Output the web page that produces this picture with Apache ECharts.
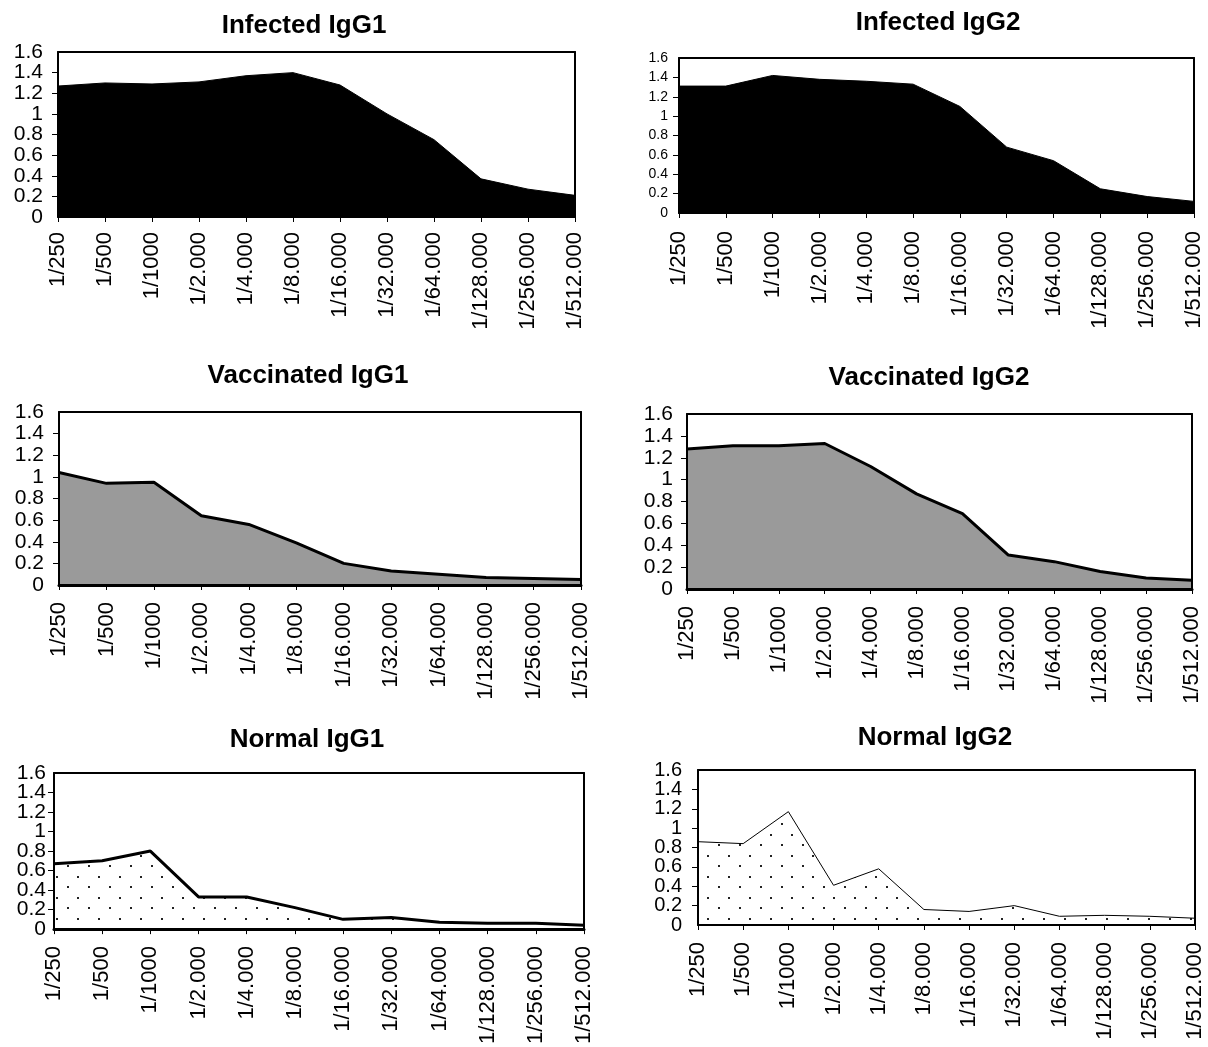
<!DOCTYPE html>
<html><head><meta charset="utf-8">
<script src="https://cdn.jsdelivr.net/npm/echarts@6/dist/echarts.min.js"></script>
<style>html,body{margin:0;padding:0;background:#fff}#c{width:1208px;height:1047px}</style>
</head><body><div id="c"></div>
<script>
// ---- data ----
const dilutions = ['1/250','1/500','1/1000','1/2.000','1/4.000','1/8.000','1/16.000','1/32.000','1/64.000','1/128.000','1/256.000','1/512.000'];
const infectedIgG1   = [1.27,1.30,1.29,1.31,1.37,1.40,1.28,1.00,0.75,0.37,0.27,0.21];
const infectedIgG2   = [1.31,1.31,1.42,1.38,1.36,1.33,1.10,0.68,0.54,0.25,0.17,0.12];
const vaccinatedIgG1 = [1.04,0.94,0.95,0.64,0.56,0.39,0.20,0.13,0.10,0.07,0.06,0.05];
const vaccinatedIgG2 = [1.28,1.31,1.31,1.33,1.12,0.87,0.69,0.31,0.25,0.16,0.10,0.08];
const normalIgG1     = [0.67,0.70,0.80,0.33,0.33,0.22,0.10,0.12,0.07,0.06,0.06,0.04];
const normalIgG2     = [0.86,0.84,1.17,0.41,0.58,0.16,0.14,0.20,0.09,0.10,0.09,0.07];
const panelTitles = ['Infected IgG1','Infected IgG2','Vaccinated IgG1','Vaccinated IgG2','Normal IgG1','Normal IgG2'];
const yMin = 0, yMax = 1.6, yStep = 0.2;

// ---- styling / layout ----
const FONT = '"Liberation Sans", Arial, sans-serif';
const dots = document.createElement('canvas');
dots.width = 21; dots.height = 21;
const g = dots.getContext('2d');
g.fillStyle = '#fff'; g.fillRect(0,0,21,21);
g.fillStyle = '#222'; g.fillRect(4,4,2,2); g.fillRect(14,15,2,2);

const seriesData = [infectedIgG1, infectedIgG2, vaccinatedIgG1, vaccinatedIgG2, normalIgG1, normalIgG2];
const layout = [
  {left:58, top:52, width:517, height:165, tx:299, ty:8,   yFont:21, yMargin:15, xMargin:15, fill:'#000', lw:1, bw:2},
  {left:679,top:58, width:515, height:155, tx:933, ty:5,   yFont:14, yMargin:11, xMargin:18, fill:'#000', lw:1, bw:2},
  {left:59, top:412,width:522, height:173, tx:303, ty:358, yFont:21, yMargin:15, xMargin:17, fill:'#9a9a9a', lw:3, bw:3},
  {left:687,top:414,width:505, height:175, tx:924, ty:360, yFont:21, yMargin:14, xMargin:17, fill:'#9a9a9a', lw:3, bw:3},
  {left:54, top:773,width:530, height:162, tx:302, ty:722, yFont:21, yMargin:8,  xMargin:17, fill:{image:dots, repeat:'repeat'}, lw:3, bw:3},
  {left:698,top:770,width:497, height:155, tx:930, ty:720, yFont:20, yMargin:16, xMargin:17, fill:{image:dots, repeat:'repeat'}, lw:1, bw:2}
];
const fmt = v => String(Math.round(v * 10) / 10);

const option = {animation:false, backgroundColor:'#fff', title:[], grid:[], xAxis:[], yAxis:[], series:[]};
layout.forEach((p,i)=>{
  option.title.push({text:panelTitles[i], left:p.tx, top:p.ty, textAlign:'center',
    textStyle:{fontFamily:FONT, fontWeight:'bold', fontSize:26, color:'#000'}});
  option.grid.push({left:p.left, top:p.top, width:p.width, height:p.height, show:false});
  // bottom category axis
  option.xAxis.push({type:'category', gridIndex:i, data:dilutions, boundaryGap:false, position:'bottom', z:5,
    axisLine:{show:true, onZero:false, lineStyle:{color:'#000', width:p.bw}},
    axisTick:{show:true, inside:false, length:5, interval:0, lineStyle:{color:'#000', width:1}},
    axisLabel:{rotate:90, interval:0, margin:p.xMargin, fontSize:22, fontFamily:FONT, color:'#000'},
    splitLine:{show:false}});
  // top frame
  option.xAxis.push({type:'category', gridIndex:i, data:dilutions, boundaryGap:false, position:'top', z:5,
    axisLine:{show:true, onZero:false, lineStyle:{color:'#000', width:2}}, axisTick:{show:false}, axisLabel:{show:false}, splitLine:{show:false}});
  const yi = option.yAxis.length;
  // left value axis: line, ticks, odd labels (0.2, 0.6, 1, 1.4)
  option.yAxis.push({type:'value', gridIndex:i, min:yMin, max:yMax, interval:yStep, position:'left', z:5,
    axisLine:{show:true, onZero:false, lineStyle:{color:'#000', width:2}},
    axisTick:{show:true, length:6, lineStyle:{color:'#000', width:1}},
    axisLabel:{fontSize:p.yFont, fontFamily:FONT, color:'#000', margin:p.yMargin,
      showMinLabel:false, showMaxLabel:false,
      formatter: v => (Math.round(v / yStep) % 2 === 1 ? fmt(v) : '')},
    splitLine:{show:false}});
  // left value axis: even labels (0, 0.4, 0.8, 1.2, 1.6)
  option.yAxis.push({type:'value', gridIndex:i, min:yMin, max:yMax, interval:yStep * 2, position:'left', z:5,
    axisLine:{show:false, onZero:false}, axisTick:{show:false},
    axisLabel:{fontSize:p.yFont, fontFamily:FONT, color:'#000', margin:p.yMargin,
      showMinLabel:true, showMaxLabel:true, formatter: v => fmt(v)},
    splitLine:{show:false}});
  // right frame
  option.yAxis.push({type:'value', gridIndex:i, min:yMin, max:yMax, interval:yStep, position:'right', z:5,
    axisLine:{show:true, onZero:false, lineStyle:{color:'#000', width:2}}, axisTick:{show:false}, axisLabel:{show:false}, splitLine:{show:false}});
  option.series.push({type:'line', name:panelTitles[i], xAxisIndex:i*2, yAxisIndex:yi, data:seriesData[i],
    symbol:'none', lineStyle:{color:'#000', width:p.lw}, areaStyle:{color:p.fill, opacity:1}, z:2});
});

const chart = echarts.init(document.getElementById('c'), null, {renderer:'canvas'});
chart.setOption(option);
</script></body></html>
